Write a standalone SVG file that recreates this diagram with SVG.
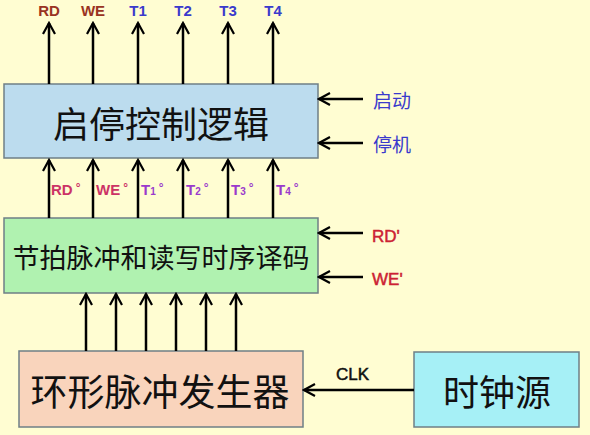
<svg xmlns="http://www.w3.org/2000/svg" width="590" height="435" viewBox="0 0 590 435">
<style>
.box{stroke:#6f7f86;stroke-width:1.5}
.cn{font-family:"Noto Sans CJK SC","Noto Sans",sans-serif;fill:#111;text-anchor:middle;dominant-baseline:central}
.lbl{font-family:"Liberation Sans","DejaVu Sans",sans-serif;font-weight:bold}
.lbn{font-family:"Liberation Sans","DejaVu Sans",sans-serif;font-weight:normal;stroke-width:0.5}
.wire{stroke:#000;stroke-width:2.5;fill:none;marker-end:url(#ah)}
</style>
<defs>
<marker id="ah" viewBox="0 0 14 14" refX="12" refY="7" markerWidth="14" markerHeight="14" markerUnits="userSpaceOnUse" orient="auto">
<path d="M1,1 L12,7 L1,13" fill="none" stroke="#000" stroke-width="2.2"/>
</marker>
</defs>
<rect width="590" height="435" fill="#fffdd2"/>
<g id="qitingkongzhi">
<rect class="box" x="4" y="84" width="314" height="74" fill="#bcdcee"/>
<text class="cn" x="161" y="122" font-size="36">启停控制逻辑</text>
</g>
<g id="jiepaiyima">
<rect class="box" x="4" y="218" width="314" height="75" fill="#b0f2b0"/>
<text class="cn" x="161" y="256" font-size="27">节拍脉冲和读写时序译码</text>
</g>
<g id="huanxingmaichong">
<rect class="box" x="19" y="351" width="284" height="76" fill="#f9d4bc"/>
<text class="cn" x="160" y="390" font-size="37">环形脉冲发生器</text>
</g>
<g id="shizhongyuan">
<rect class="box" x="414" y="352" width="165" height="75" fill="#a6f0f6"/>
<text class="cn" x="497" y="390" font-size="36">时钟源</text>
</g>
<g id="connectors">
<path class="wire" d="M49,84 V23"/>
<path class="wire" d="M93,84 V23"/>
<path class="wire" d="M138,84 V23"/>
<path class="wire" d="M183,84 V23"/>
<path class="wire" d="M228,84 V23"/>
<path class="wire" d="M273,84 V23"/>
<path class="wire" d="M49,218 V160"/>
<path class="wire" d="M93,218 V160"/>
<path class="wire" d="M138,218 V160"/>
<path class="wire" d="M183,218 V160"/>
<path class="wire" d="M228,218 V160"/>
<path class="wire" d="M273,218 V160"/>
<path class="wire" d="M86,351 V294"/>
<path class="wire" d="M116,351 V294"/>
<path class="wire" d="M146,351 V294"/>
<path class="wire" d="M176,351 V294"/>
<path class="wire" d="M206,351 V294"/>
<path class="wire" d="M236,351 V294"/>
<path class="wire" d="M363,99 H319"/>
<path class="wire" d="M363,143 H319"/>
<path class="wire" d="M363,233 H319"/>
<path class="wire" d="M363,277 H319"/>
<path class="wire" d="M414,390 H304"/>
</g>
<g id="labels">
<g class="lbl" font-size="15" text-anchor="middle">
<text x="49" y="16" fill="#993322">RD</text>
<text x="93" y="16" fill="#993322">WE</text>
<text x="138" y="16" fill="#3a3acc">T1</text>
<text x="183" y="16" fill="#3a3acc">T2</text>
<text x="228" y="16" fill="#3a3acc">T3</text>
<text x="273" y="16" fill="#3a3acc">T4</text>
</g>
<g class="lbl" font-size="15">
<text x="51" y="195" fill="#cc3366">RD<tspan font-size="12" dx="3" dy="-3">°</tspan></text>
<text x="96" y="195" fill="#cc3366">WE<tspan font-size="12" dx="3" dy="-3">°</tspan></text>
<text x="141" y="195" fill="#9a3acc">T<tspan font-size="10">1</tspan><tspan font-size="12" dx="3" dy="-3">°</tspan></text>
<text x="186" y="195" fill="#9a3acc">T<tspan font-size="10">2</tspan><tspan font-size="12" dx="3" dy="-3">°</tspan></text>
<text x="231" y="195" fill="#9a3acc">T<tspan font-size="10">3</tspan><tspan font-size="12" dx="3" dy="-3">°</tspan></text>
<text x="276" y="195" fill="#9a3acc">T<tspan font-size="10">4</tspan><tspan font-size="12" dx="3" dy="-3">°</tspan></text>
</g>
<text x="373" y="108" font-size="19" fill="#3a3acc" font-family="Noto Sans CJK SC,sans-serif">启动</text>
<text x="373" y="152" font-size="19" fill="#3a3acc" font-family="Noto Sans CJK SC,sans-serif">停机</text>
<text class="lbn" x="372" y="242" font-size="17" fill="#cc2233" stroke="#cc2233">RD'</text>
<text class="lbn" x="372" y="285" font-size="17" fill="#cc2233" stroke="#cc2233">WE'</text>
<text class="lbn" x="336" y="380" font-size="17" fill="#111" stroke="#111">CLK</text>
</g>
</svg>
